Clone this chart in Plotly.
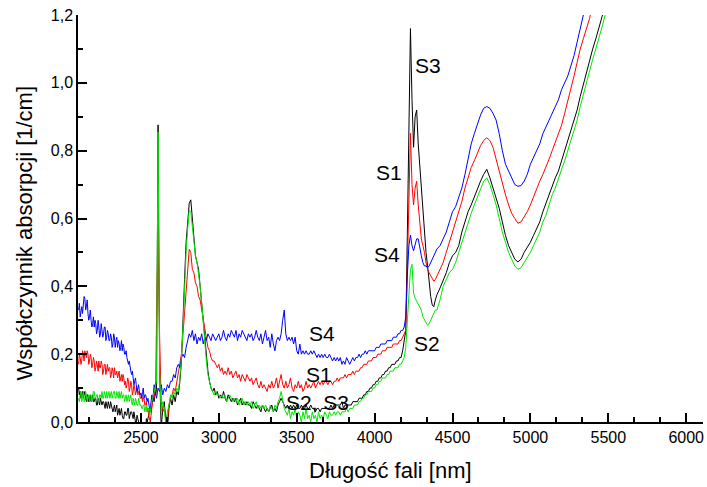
import plotly.graph_objects as go

# Wavelength sampling: 10 nm up to 4390 nm, 20 nm above
wl_fine = list(range(2100, 4400, 10))
wl_coarse = list(range(4400, 5501, 20))
wavelength = wl_fine + wl_coarse
# Extra in-between samples of the noisy short-wavelength band (2105-2595 nm)
wl_half = list(range(2105, 2600, 10))

# Absorption coefficient [1/cm] for each sample
s1 = [  # red
    0.17, 0.19, 0.18, 0.20, 0.21, 0.19, 0.20, 0.18, 0.19, 0.17,
    0.18, 0.16, 0.17, 0.18, 0.16, 0.17, 0.15, 0.17, 0.16, 0.15,
    0.16, 0.14, 0.15, 0.16, 0.14, 0.13, 0.15, 0.13, 0.12, 0.13,
    0.12, 0.11, 0.12, 0.10, 0.11, 0.09, 0.10, 0.09, 0.08, 0.09,
    0.07, 0.06, 0.07, 0.05, 0.03, 0.02, 0.00, 0.04, 0.08, 0.10,
    0.30, 0.556, 0.25, 0.06, 0.03, 0.04, 0.02, 0.00, 0.05, 0.07,
    0.08, 0.10, 0.09, 0.12, 0.14, 0.17, 0.20, 0.26, 0.33, 0.40,
    0.46, 0.509, 0.50, 0.45, 0.44, 0.41, 0.40, 0.37, 0.36, 0.33,
    0.30, 0.27, 0.24, 0.22, 0.21, 0.19, 0.18, 0.18, 0.17, 0.16,
    0.17, 0.15, 0.16, 0.14, 0.15, 0.14, 0.16, 0.14, 0.15, 0.13,
    0.14, 0.15, 0.13, 0.14, 0.12, 0.14, 0.13, 0.12, 0.14, 0.13,
    0.12, 0.13, 0.11, 0.12, 0.13, 0.11, 0.10, 0.12, 0.10, 0.11,
    0.10, 0.09, 0.11, 0.10, 0.12, 0.10, 0.11, 0.13, 0.10, 0.12,
    0.14, 0.11, 0.10, 0.12, 0.10, 0.11, 0.13, 0.10, 0.09, 0.11,
    0.10, 0.12, 0.10, 0.11, 0.09, 0.10, 0.12, 0.10, 0.11, 0.10,
    0.11, 0.12, 0.10, 0.11, 0.12, 0.11, 0.12, 0.11, 0.12, 0.12,
    0.11, 0.12, 0.12, 0.11, 0.12, 0.12, 0.13, 0.12, 0.13, 0.13,
    0.13, 0.14, 0.13, 0.14, 0.14, 0.14, 0.15, 0.14, 0.15, 0.15,
    0.15, 0.16, 0.16, 0.17, 0.17, 0.17, 0.18, 0.18, 0.18, 0.19,
    0.19, 0.19, 0.20, 0.20, 0.20, 0.21, 0.21, 0.21, 0.22, 0.22,
    0.22, 0.22, 0.23, 0.23, 0.23, 0.23, 0.24, 0.24, 0.25, 0.26,
    0.27, 0.45, 0.70, 0.851, 0.70, 0.64, 0.69, 0.71, 0.64, 0.58,
    0.54, 0.52, 0.50, 0.47, 0.45, 0.44, 0.43, 0.42, 0.415, 0.42,
    # 4400-5500 nm
    0.43, 0.45, 0.47, 0.50, 0.53, 0.56, 0.59, 0.62, 0.65, 0.69,
    0.72, 0.75, 0.77, 0.795, 0.815, 0.83, 0.838, 0.83, 0.81, 0.775,
    0.74, 0.70, 0.67, 0.64, 0.615, 0.60, 0.586, 0.59, 0.605, 0.62,
    0.64, 0.665, 0.69, 0.71, 0.73, 0.75, 0.775, 0.80, 0.825, 0.85,
    0.875, 0.91, 0.945, 0.98, 1.02, 1.06, 1.10, 1.13, 1.16, 1.19,
    1.23, 1.27, 1.31, 1.35, 1.39, 1.43,
]
s1_half = [
    0.20, 0.17, 0.21, 0.18, 0.20, 0.21, 0.17, 0.20, 0.16, 0.19,
    0.15, 0.18, 0.15, 0.16, 0.18, 0.14, 0.17, 0.14, 0.17, 0.16,
    0.13, 0.16, 0.13, 0.14, 0.15, 0.14, 0.12, 0.14, 0.14, 0.11,
    0.10, 0.13, 0.09, 0.12, 0.08, 0.11, 0.08, 0.10, 0.09, 0.07,
    0.08, 0.07, 0.05, 0.06, 0.04, 0.01, 0.02, 0.06, 0.07, 0.12,
]

s2 = [  # green
    0.07, 0.08, 0.06, 0.09, 0.07, 0.08, 0.07, 0.06, 0.08, 0.07,
    0.09, 0.07, 0.08, 0.06, 0.08, 0.09, 0.07, 0.08, 0.09, 0.08,
    0.07, 0.09, 0.08, 0.09, 0.07, 0.08, 0.09, 0.08, 0.07, 0.08,
    0.07, 0.06, 0.08, 0.07, 0.06, 0.07, 0.05, 0.06, 0.05, 0.06,
    0.05, 0.04, 0.05, 0.04, 0.03, 0.04, 0.03, 0.06, 0.08, 0.10,
    0.12, 0.855, 0.15, 0.03, 0.06, 0.04, -0.01, 0.03, 0.05, 0.08,
    0.07, 0.09, 0.08, 0.10, 0.09, 0.13, 0.19, 0.28, 0.40, 0.50,
    0.57, 0.625, 0.62, 0.57, 0.52, 0.49, 0.47, 0.44, 0.40, 0.35,
    0.29, 0.23, 0.18, 0.14, 0.12, 0.10, 0.09, 0.08, 0.09, 0.08,
    0.08, 0.07, 0.08, 0.07, 0.08, 0.06, 0.07, 0.08, 0.07, 0.06,
    0.07, 0.06, 0.07, 0.05, 0.06, 0.07, 0.05, 0.06, 0.05, 0.06,
    0.05, 0.06, 0.04, 0.05, 0.06, 0.04, 0.05, 0.04, 0.05, 0.04,
    0.05, 0.04, 0.03, 0.05, 0.04, 0.03, 0.05, 0.04, 0.06, 0.07,
    0.09, 0.06, 0.04, 0.03, 0.02, 0.04, 0.01, 0.03, 0.02, 0.04,
    0.01, 0.03, 0.02, 0.00, 0.03, 0.01, 0.04, 0.01, 0.02, 0.00,
    0.03, 0.01, 0.02, 0.00, 0.03, 0.01, 0.02, 0.01, 0.03, 0.02,
    0.01, 0.03, 0.02, 0.02, 0.03, 0.02, 0.03, 0.03, 0.02, 0.03,
    0.03, 0.03, 0.04, 0.03, 0.04, 0.04, 0.04, 0.05, 0.05, 0.05,
    0.06, 0.06, 0.07, 0.07, 0.08, 0.08, 0.09, 0.09, 0.09, 0.10,
    0.10, 0.11, 0.11, 0.12, 0.12, 0.13, 0.13, 0.13, 0.14, 0.14,
    0.15, 0.15, 0.15, 0.16, 0.16, 0.16, 0.17, 0.17, 0.18, 0.19,
    0.22, 0.30, 0.40, 0.45, 0.465, 0.38, 0.365, 0.355, 0.35, 0.34,
    0.33, 0.31, 0.30, 0.29, 0.285, 0.29, 0.30, 0.31, 0.32, 0.33,
    # 4400-5500 nm
    0.33, 0.36, 0.40, 0.42, 0.44, 0.45, 0.47, 0.50, 0.53, 0.56,
    0.59, 0.615, 0.64, 0.665, 0.69, 0.71, 0.72, 0.70, 0.67, 0.64,
    0.60, 0.56, 0.53, 0.50, 0.48, 0.46, 0.45, 0.455, 0.47, 0.485,
    0.50, 0.52, 0.54, 0.56, 0.59, 0.61, 0.64, 0.67, 0.69, 0.72,
    0.745, 0.77, 0.80, 0.83, 0.86, 0.89, 0.93, 0.965, 1.00, 1.04,
    1.07, 1.10, 1.13, 1.165, 1.20, 1.24,
]
s2_half = [
    0.06, 0.09, 0.07, 0.06, 0.09, 0.06, 0.08, 0.08, 0.06, 0.09,
    0.07, 0.08, 0.06, 0.08, 0.07, 0.07, 0.09, 0.07, 0.07, 0.09,
    0.08, 0.07, 0.09, 0.07, 0.09, 0.07, 0.07, 0.09, 0.08, 0.06,
    0.08, 0.07, 0.06, 0.08, 0.05, 0.06, 0.07, 0.05, 0.07, 0.05,
    0.04, 0.05, 0.03, 0.05, 0.04, 0.02, 0.05, 0.07, 0.09, 0.11,
]

s3 = [  # black
    0.10, 0.09, 0.08, 0.07, 0.09, 0.06, 0.08, 0.07, 0.06, 0.08,
    0.06, 0.07, 0.05, 0.06, 0.07, 0.05, 0.06, 0.04, 0.05, 0.06,
    0.04, 0.05, 0.03, 0.05, 0.04, 0.02, 0.04, 0.03, 0.02, 0.01,
    0.03, 0.02, 0.04, 0.02, 0.03, 0.01, 0.02, 0.00, 0.01, -0.01,
    -0.03, -0.02, -0.01, -0.02, 0.00, 0.02, 0.04, 0.05, 0.07, 0.09,
    0.10, 0.876, 0.15, -0.02, 0.04, 0.06, 0.00, -0.02, 0.04, 0.07,
    0.05, 0.08, 0.06, 0.09, 0.08, 0.12, 0.18, 0.28, 0.42, 0.53,
    0.58, 0.645, 0.655, 0.60, 0.53, 0.49, 0.47, 0.45, 0.40, 0.35,
    0.29, 0.23, 0.18, 0.15, 0.12, 0.10, 0.09, 0.10, 0.08, 0.09,
    0.07, 0.08, 0.07, 0.09, 0.07, 0.06, 0.08, 0.07, 0.06, 0.07,
    0.06, 0.07, 0.05, 0.06, 0.07, 0.05, 0.06, 0.05, 0.06, 0.05,
    0.05, 0.04, 0.06, 0.05, 0.04, 0.05, 0.04, 0.03, 0.05, 0.04,
    0.03, 0.04, 0.03, 0.04, 0.05, 0.03, 0.04, 0.03, 0.05, 0.06,
    0.07, 0.06, 0.05, 0.04, 0.05, 0.04, 0.05, 0.04, 0.05, 0.04,
    0.05, 0.04, 0.04, 0.05, 0.04, 0.04, 0.05, 0.04, 0.04, 0.05,
    0.04, 0.04, 0.03, 0.04, 0.04, 0.03, 0.04, 0.04, 0.04, 0.04,
    0.04, 0.04, 0.05, 0.04, 0.05, 0.05, 0.05, 0.05, 0.05, 0.06,
    0.04, 0.05, 0.05, 0.05, 0.05, 0.05, 0.06, 0.06, 0.06, 0.06,
    0.07, 0.07, 0.07, 0.08, 0.08, 0.09, 0.09, 0.10, 0.10, 0.11,
    0.11, 0.12, 0.12, 0.13, 0.13, 0.14, 0.14, 0.15, 0.15, 0.16,
    0.16, 0.17, 0.17, 0.17, 0.18, 0.18, 0.19, 0.19, 0.21, 0.24,
    0.27, 0.55, 0.90, 1.16, 0.95, 0.81, 0.90, 0.92, 0.82, 0.75,
    0.69, 0.63, 0.56, 0.50, 0.46, 0.41, 0.37, 0.345, 0.34, 0.36,
    # 4400-5500 nm
    0.375, 0.395, 0.418, 0.44, 0.47, 0.49, 0.50, 0.52, 0.56, 0.59,
    0.62, 0.64, 0.665, 0.69, 0.71, 0.73, 0.745, 0.72, 0.69, 0.665,
    0.63, 0.59, 0.55, 0.52, 0.50, 0.48, 0.472, 0.48, 0.50, 0.515,
    0.53, 0.55, 0.57, 0.59, 0.62, 0.645, 0.67, 0.70, 0.72, 0.74,
    0.77, 0.80, 0.83, 0.86, 0.89, 0.92, 0.96, 0.995, 1.03, 1.07,
    1.10, 1.13, 1.16, 1.195, 1.23, 1.27,
]
s3_half = [
    0.08, 0.07, 0.09, 0.08, 0.07, 0.08, 0.06, 0.08, 0.07, 0.06,
    0.07, 0.05, 0.07, 0.05, 0.06, 0.06, 0.05, 0.06, 0.04, 0.05,
    0.06, 0.04, 0.04, 0.03, 0.05, 0.03, 0.02, 0.04, 0.01, 0.03,
    0.02, 0.04, 0.01, 0.03, 0.02, 0.03, 0.00, 0.02, -0.01, -0.02,
    -0.02, -0.01, -0.03, 0.01, 0.01, 0.03, 0.03, 0.07, 0.06, 0.08,
]

s4 = [  # blue
    0.33, 0.31, 0.34, 0.35, 0.365, 0.34, 0.32, 0.31, 0.30, 0.29,
    0.28, 0.29, 0.27, 0.28, 0.26, 0.27, 0.26, 0.28, 0.25, 0.26,
    0.24, 0.25, 0.23, 0.25, 0.24, 0.22, 0.23, 0.22, 0.21, 0.22,
    0.20, 0.19, 0.17, 0.16, 0.14, 0.13, 0.12, 0.11, 0.10, 0.09,
    0.085, 0.09, 0.07, 0.08, 0.06, 0.05, 0.04, 0.08, 0.10, 0.09,
    0.07, 0.10, 0.09, 0.11, 0.08, 0.10, 0.09, 0.11, 0.10, 0.12,
    0.12, 0.14, 0.13, 0.16, 0.17, 0.16, 0.19, 0.20, 0.19, 0.22,
    0.24, 0.26, 0.25, 0.27, 0.24, 0.26, 0.23, 0.25, 0.24, 0.26,
    0.23, 0.25, 0.24, 0.26, 0.25, 0.24, 0.26, 0.25, 0.24, 0.25,
    0.26, 0.24, 0.25, 0.27, 0.25, 0.24, 0.26, 0.25, 0.27, 0.26,
    0.25, 0.27, 0.24, 0.26, 0.25, 0.27, 0.26, 0.25, 0.24, 0.26,
    0.25, 0.26, 0.24, 0.25, 0.27, 0.25, 0.24, 0.26, 0.23, 0.25,
    0.27, 0.24, 0.25, 0.22, 0.26, 0.23, 0.21, 0.24, 0.25, 0.24,
    0.26, 0.30, 0.33, 0.26, 0.24, 0.25, 0.24, 0.25, 0.23, 0.25,
    0.21, 0.20, 0.23, 0.20, 0.21, 0.20, 0.21, 0.20, 0.20, 0.21,
    0.20, 0.21, 0.20, 0.19, 0.20, 0.19, 0.20, 0.19, 0.20, 0.19,
    0.19, 0.20, 0.19, 0.18, 0.19, 0.18, 0.19, 0.18, 0.19, 0.17,
    0.18, 0.17, 0.19, 0.18, 0.17, 0.18, 0.19, 0.18, 0.19, 0.19,
    0.20, 0.19, 0.20, 0.20, 0.21, 0.20, 0.21, 0.21, 0.21, 0.21,
    0.21, 0.22, 0.22, 0.22, 0.23, 0.23, 0.23, 0.23, 0.24, 0.24,
    0.24, 0.24, 0.25, 0.25, 0.25, 0.26, 0.26, 0.27, 0.27, 0.28,
    0.31, 0.43, 0.52, 0.551, 0.52, 0.505, 0.52, 0.54, 0.54, 0.51,
    0.49, 0.47, 0.46, 0.46, 0.455, 0.46, 0.47, 0.48, 0.49, 0.50,
    # 4400-5500 nm
    0.51, 0.52, 0.54, 0.56, 0.59, 0.62, 0.635, 0.66, 0.69, 0.73,
    0.78, 0.82, 0.85, 0.88, 0.905, 0.925, 0.93, 0.925, 0.91, 0.89,
    0.85, 0.80, 0.76, 0.74, 0.72, 0.70, 0.695, 0.697, 0.71, 0.73,
    0.76, 0.78, 0.80, 0.82, 0.85, 0.87, 0.89, 0.91, 0.93, 0.95,
    0.98, 1.00, 1.02, 1.05, 1.08, 1.12, 1.16, 1.20, 1.24, 1.28,
    1.32, 1.36, 1.40, 1.44, 1.48, 1.52,
]
s4_half = [
    0.35, 0.33, 0.32, 0.37, 0.33, 0.36, 0.30, 0.33, 0.28, 0.31,
    0.30, 0.26, 0.30, 0.25, 0.29, 0.25, 0.28, 0.24, 0.27, 0.24,
    0.26, 0.22, 0.26, 0.22, 0.25, 0.24, 0.21, 0.24, 0.23, 0.20,
    0.21, 0.18, 0.18, 0.15, 0.15, 0.11, 0.13, 0.09, 0.11, 0.08,
    0.07, 0.10, 0.08, 0.07, 0.07, 0.04, 0.06, 0.06, 0.11, 0.08,
]

series = [
    ("S3", s3, s3_half, "#000000"),
    ("S1", s1, s1_half, "#ff0000"),
    ("S4", s4, s4_half, "#0000ff"),
    ("S2", s2, s2_half, "#00e600"),
]

x_ticks = [2500, 3000, 3500, 4000, 4500, 5000, 5500, 6000]
x_tick_text = ["2500", "3000", "3500", "4000", "4500", "5000", "5500", "6000"]
y_ticks = [0.0, 0.2, 0.4, 0.6, 0.8, 1.0, 1.2]
y_tick_text = ["0,0", "0,2", "0,4", "0,6", "0,8", "1,0", "1,2"]

# Curve labels: text, wavelength, absorption
labels = [
    ("S3", 4345, 1.05),
    ("S1", 4090, 0.735),
    ("S4", 4080, 0.495),
    ("S2", 4335, 0.23),
    ("S4", 3660, 0.26),
    ("S1", 3640, 0.14),
    ("S2, S3", 3635, 0.057),
]

FONT = "Liberation Sans, Arial, sans-serif"

fig = go.Figure()
for name, vals, half_vals, color in series:
    pts = sorted(zip(wavelength + wl_half, vals + half_vals))
    fig.add_trace(go.Scatter(
        x=[p[0] for p in pts], y=[p[1] for p in pts],
        mode="lines", name=name,
        line=dict(color=color, width=1),
        showlegend=False,
    ))

for text, lx, ly in labels:
    fig.add_annotation(
        x=lx, y=ly, text=text, showarrow=False,
        xanchor="center", yanchor="middle",
        font=dict(family=FONT, size=21, color="black"),
    )

# Axis titles
fig.add_annotation(
    x=0.5, y=-0.119, xref="paper", yref="paper",
    text="Długość fali [nm]", showarrow=False,
    xanchor="center", yanchor="middle",
    font=dict(family=FONT, size=22, color="black"),
)
fig.add_annotation(
    x=-0.085, y=0.465, xref="paper", yref="paper",
    text="Współczynnik absorpcji [1/cm]", showarrow=False,
    textangle=-90, xanchor="center", yanchor="middle",
    font=dict(family=FONT, size=22, color="black"),
)

axis_common = dict(
    showgrid=False, zeroline=False, showline=True,
    linecolor="black", linewidth=1.5,
    ticks="inside", tickcolor="black", tickwidth=1.5, ticklen=9,
    tickfont=dict(family=FONT, size=16, color="black"),
)

fig.update_xaxes(
    range=[2096, 6108], tickmode="array",
    tickvals=x_ticks, ticktext=x_tick_text,
    minor=dict(ticks="inside", ticklen=5, tickwidth=1.5, tickcolor="black",
               tickmode="linear", tick0=2500, dtick=500 / 3),
    **axis_common,
)
fig.update_yaxes(
    range=[0, 1.2], tickmode="array",
    tickvals=y_ticks, ticktext=y_tick_text,
    minor=dict(ticks="inside", ticklen=5, tickwidth=1.5, tickcolor="black",
               tickmode="linear", tick0=0, dtick=0.1),
    **axis_common,
)

fig.update_layout(
    width=707, height=487,
    margin=dict(l=78, r=4, t=15, b=65),
    plot_bgcolor="white", paper_bgcolor="white",
    font=dict(family=FONT, color="black"),
)

fig.write_html("out.html")
